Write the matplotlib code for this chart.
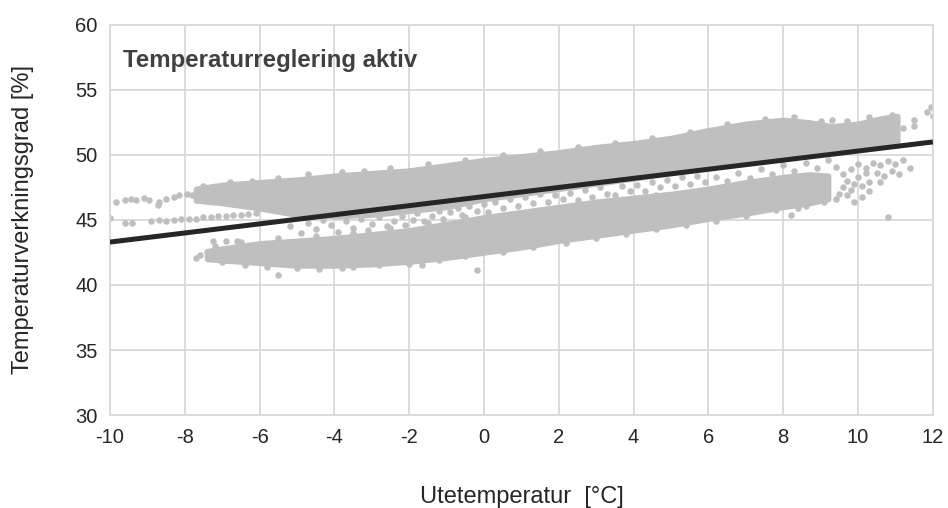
import numpy as np
import matplotlib
matplotlib.use('Agg')
import matplotlib.pyplot as plt

plt.rcParams['font.family'] = ['Liberation Sans', 'DejaVu Sans']
plt.rcParams['axes.unicode_minus'] = False

#=================================================================================#
# tett del av punktskyen, ovre band (x, nedre kant, ovre kant)

ovre_x  = [-7.7, -7, -6, -5, -4, -3, -2, -1, 0, 1, 2, 3, 4, 5, 6, 7, 8, 8.7, 9.3, 10, 10.6, 11.05]
ovre_lo = [46.5, 46.3, 45.9, 45.4, 45.3, 45.4, 45.7, 46.0, 46.6, 47.0, 47.4, 47.8, 48.2, 48.6, 49.0, 49.4, 49.8, 50.2, 50.5, 50.7, 50.8, 51.0]
ovre_hi = [47.4, 47.7, 47.9, 48.1, 48.4, 48.6, 48.8, 49.2, 49.6, 49.9, 50.2, 50.6, 50.9, 51.3, 51.9, 52.4, 52.7, 52.5, 52.2, 52.4, 52.8, 53.0]

# nedre band
nedre_x  = [-7.4, -7, -6, -5, -4, -3, -2, -1, 0, 1, 2, 3, 4, 5, 6, 7, 8, 8.7, 9.2]
nedre_lo = [42.0, 41.9, 41.7, 41.5, 41.5, 41.6, 41.8, 42.1, 42.5, 42.9, 43.4, 43.8, 44.2, 44.6, 45.1, 45.5, 46.0, 46.3, 46.6]
nedre_hi = [42.6, 42.8, 43.2, 43.4, 43.6, 43.9, 44.2, 44.7, 45.2, 45.6, 46.0, 46.4, 46.7, 47.0, 47.4, 47.9, 48.3, 48.5, 48.4]

#=================================================================================#
# enkeltpunkter (glisne omrader)

punkt_x = [-9.85, -9.6, -9.45, -9.3, -9.1, -8.95, -8.72, -8.7, -8.5, -8.3, -8.15, -7.95, -7.8,
           -10.0, -9.6, -9.4, -8.9, -8.7, -8.5, -8.3, -8.1, -7.9, -7.7, -7.5, -7.3, -7.1, -6.9, -6.7, -6.5, -6.3, -6.1,
           -7.25, -7.2, -6.9, -6.6, -5.5, -3.8, -1.66, -0.2,
           -5.2, -4.9, -4.7, -4.5, -4.3, -4.1, -3.9, -3.7, -3.5, -3.3, -3.1, -3.0,
           -2.8, -2.6, -2.4, -2.2, -2.1, -1.9, -1.8, -1.6, -1.4, -1.2, -1.1, -0.9,
           -0.7, -0.6, -0.4, -0.2, 0.0, 0.1, 0.3, 0.5, 0.7, 0.9, 1.1, 1.3, 1.5, 1.7, 1.9,
           2.1, 2.3, 2.5, 2.7, 2.9, 3.1, 3.3, 3.5, 3.7, 3.9,
           4.1, 4.3, 4.5, 4.6, 4.7, 4.9, 5.1, 5.3, 5.5, 5.7, 5.9,
           6.2, 6.5, 6.8, 7.1, 7.4, 7.7, 8.0, 8.3, 8.6, 8.9, 9.2, 9.4, 8.2, 8.4,
           9.5, 9.6, 9.7, 9.8, 9.9, 10.0, 10.1, 10.2, 10.3, 9.6, 9.8, 10.0, 10.2, 10.4, 10.6, 10.8, 11.0,
           11.2, 11.4, 10.5, 10.7, 10.9, 11.1, 9.4, 9.7, 10.1, 10.3, 9.9, 10.6, 10.8,
           11.2, 11.5, 11.5, 11.85, 11.95, 12.0, 9.0, 9.3, 8.9]
punkt_y = [46.4, 46.5, 46.6, 46.55, 46.7, 46.5, 46.15, 46.4, 46.6, 46.8, 46.9, 47.0, 46.9,
           45.15, 44.75, 44.8, 44.9, 45.0, 44.95, 45.0, 45.05, 45.1, 45.1, 45.2, 45.2, 45.3, 45.3, 45.35, 45.4, 45.45, 45.5,
           43.4, 43.0, 43.4, 43.4, 40.8, 41.3, 41.5, 41.15,
           44.5, 44.0, 44.8, 44.3, 45.0, 44.6, 44.1, 44.9, 44.4, 45.1, 44.2, 44.7,
           45.2, 44.5, 44.9, 45.3, 44.6, 45.0, 45.5, 44.9, 45.3, 45.7, 45.1, 45.6,
           45.9, 45.4, 46.1, 45.7, 46.2, 45.6, 46.4, 45.9, 46.6, 46.1, 46.8, 46.3, 47.0, 46.4, 46.9,
           46.6, 47.1, 46.5, 47.3, 46.8, 47.5, 47.0, 46.9, 47.6, 47.2,
           47.7, 47.2, 47.9, 46.9, 47.5, 48.1, 47.6, 48.3, 47.8, 48.4, 47.9,
           48.3, 48.0, 48.6, 48.2, 48.9, 48.5, 49.2, 48.8, 49.4, 49.0, 49.6, 49.1, 45.4, 45.9,
           47.0, 47.5, 48.0, 47.3, 47.8, 48.3, 47.6, 48.6, 47.9, 48.5, 48.9, 49.3, 49.0, 49.4, 49.2, 49.5, 49.3,
           49.6, 49.0, 48.6, 48.4, 48.8, 48.5, 46.6, 46.9, 46.8, 47.2, 46.4, 47.9, 45.2,
           52.1, 52.7, 52.2, 53.3, 53.7, 53.0, 52.6, 52.7, 52.4]

# punkter langs kantene av de tette bandene
kant_x = [-7.5, -6.8, -6.2, -5.5, -4.7, -3.8, -3.2, -2.5, -1.5, -0.5, 0.5, 1.5, 2.5, 3.5, 4.5, 5.5, 6.5, 7.5, 8.3, 9.0, 9.7, 10.3, 10.9,
          -7.0, -6.4, -5.8, -5.0, -4.4, -3.5, -2.8, -2.0, -1.2, -0.5, 0.5, 1.3, 2.2, 3.0, 3.8, 4.6, 5.4, 6.2, 7.0, 7.8, 8.6, 9.1,
          -7.6, -7.4, -7.7, -6.5, -5.5, -4.5, -3.5, -2.5, -1.5, -0.5]
kant_y = [47.6, 47.9, 48.0, 48.2, 48.5, 48.7, 48.8, 49.0, 49.3, 49.6, 50.0, 50.3, 50.6, 50.9, 51.3, 51.8, 52.4, 52.8, 52.9, 52.5, 52.6, 52.9, 53.1,
          41.8, 41.5, 41.4, 41.3, 41.2, 41.4, 41.5, 41.6, 41.9, 42.2, 42.5, 42.9, 43.2, 43.6, 43.9, 44.3, 44.6, 44.9, 45.3, 45.8, 46.1, 46.4,
          42.3, 42.5, 42.1, 43.3, 43.6, 43.8, 44.0, 44.4, 44.8, 45.2]

# trendlinje
trend_x = [-10, 12]
trend_y = [43.3, 51.0]

#=================================================================================#

fig = plt.figure(figsize=(9.48, 5.08), dpi=100)
ax = fig.add_axes([0.116, 0.183, 0.868, 0.768])

grå = '#BFBFBF'
ax.fill_between(ovre_x, ovre_lo, ovre_hi, color=grå, lw=4, edgecolor=grå, zorder=2)
ax.fill_between(nedre_x, nedre_lo, nedre_hi, color=grå, lw=4, edgecolor=grå, zorder=2)
ax.scatter(punkt_x, punkt_y, s=22, color=grå, lw=0, zorder=2)
ax.scatter(kant_x, kant_y, s=22, color=grå, lw=0, zorder=2)
ax.plot(trend_x, trend_y, color='#262626', lw=3.6, solid_capstyle='butt', zorder=3)

ax.text(-9.65, 57.3, 'Temperaturreglering aktiv', fontsize=17.3, fontweight='bold',
        color='#404040', va='center', ha='left')

ax.set_xlim(-10, 12)
ax.set_ylim(30, 60)
ax.set_xticks(np.arange(-10, 13, 2))
ax.set_yticks(np.arange(30, 61, 5))
ax.grid(True, color='#D9D9D9', lw=1.3)
ax.set_axisbelow(True)
for s in ax.spines.values():
    s.set_color('#D9D9D9')
    s.set_linewidth(1.3)
ax.tick_params(length=0, labelsize=14.5, labelcolor='#262626', pad=9)

ax.set_xlabel('Utetemperatur  [°C]', fontsize=17, color='#262626')
ax.set_ylabel('Temperaturverkningsgrad [%]', fontsize=17, color='#262626')
ax.xaxis.label.set_va('center')
ax.yaxis.label.set_va('center')
ax.xaxis.set_label_coords(0.5, -0.21)
ax.yaxis.set_label_coords(-0.106, 0.5)

fig.savefig('out.png', dpi=100)
